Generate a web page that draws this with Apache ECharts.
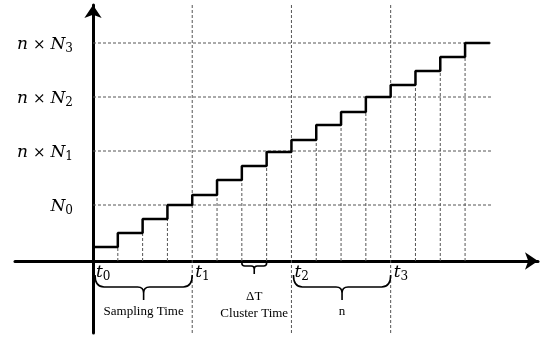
<!DOCTYPE html>
<html><head><meta charset="utf-8">
<script src="https://cdn.jsdelivr.net/npm/echarts@6/dist/echarts.min.js"></script>
<style>html,body{margin:0;padding:0;background:#fff}#c{width:545px;height:338px}</style>
</head><body><div id="c"></div>
<script>
// cumulative count level of each sampling step (arbitrary units)
const stepLevels = [14, 28, 42, 56, 66, 81, 95, 109, 121, 136, 149, 164, 176, 190, 204, 218];
// reference levels and their labels
const gridLevels = [56, 110, 164, 218];
const gridPrefix = ['', 'n', 'n', 'n'];
const gridSubs = ['0', '1', '2', '3'];
// cluster boundaries t0..t3 (in steps)
const tValues = [0, 4, 8, 12];
const tSubs = ['0', '1', '2', '3'];
// braces: [from, to]
const braceSpans = [[0, 4], [6, 7], [8, 12]];
const braceLabels = ['Sampling Time', 'ΔT\nCluster Time', 'n'];

const X_MIN = -3.145, X_MAX = 17.94, Y_MIN = -72, Y_MAX = 256;
const GRID_END = 16.1;
const SERIF = 'Liberation Serif';
const MATH = 'DejaVu Serif';

const stepData = stepLevels.map((v, i) => [i, v]);
stepData.push([stepLevels.length, stepLevels[stepLevels.length - 1]]);

// dashed guide lines: [x0, y0, x1, y1]
const guides = [];
gridLevels.forEach(v => guides.push([0, v, GRID_END, v]));
for (let i = 1; i < stepLevels.length; i++) {
  if (tValues.indexOf(i) >= 0) guides.push([i, Y_MIN, i, Y_MAX]);
  else guides.push([i, 0, i, stepLevels[i - 1]]);
}

const mathRich = {
  i: {fontFamily: MATH, fontStyle: 'italic', fontSize: 17, fill: '#000', lineHeight: 20},
  o: {fontFamily: MATH, fontSize: 15, fill: '#000', lineHeight: 20, padding: [0, 5, 0, 5]},
  s: {fontFamily: MATH, fontSize: 12, fill: '#000', lineHeight: 12, verticalAlign: 'bottom'}
};

const chart = echarts.init(document.getElementById('c'), null, {renderer: 'canvas'});
chart.setOption({
  animation: false,
  backgroundColor: '#fff',
  grid: {left: 15, right: 7, top: 5, bottom: 5, containLabel: false, outerBoundsMode: 'none'},
  xAxis: {
    type: 'value', min: X_MIN, max: X_MAX,
    splitLine: {show: false}, axisTick: {show: false}, axisLabel: {show: false},
    axisLine: {onZero: true, lineStyle: {color: '#000', width: 3}, symbol: ['none', 'arrow'], symbolSize: [13, 13]}
  },
  yAxis: {
    type: 'value', min: Y_MIN, max: Y_MAX,
    splitLine: {show: false}, axisTick: {show: false}, axisLabel: {show: false},
    axisLine: {onZero: true, lineStyle: {color: '#000', width: 3}, symbol: ['none', 'arrow'], symbolSize: [13, 13]}
  },
  series: [
    {
      type: 'custom', z: 1, clip: false, silent: true, data: guides,
      renderItem: (params, api) => {
        const p = api.coord([api.value(0), api.value(1)]);
        const q = api.coord([api.value(2), api.value(3)]);
        return {type: 'line', shape: {x1: p[0], y1: p[1], x2: q[0], y2: q[1]},
          style: {stroke: '#555', lineWidth: 1, lineDash: [3, 2]}};
      }
    },
    {
      type: 'line', data: stepData, step: 'end', z: 3, symbol: 'none', clip: false,
      lineStyle: {color: '#000', width: 2.5}
    },
    {
      type: 'custom', z: 4, clip: false, silent: true, data: gridLevels.map(v => [0, v]),
      renderItem: (params, api) => {
        const p = api.coord([api.value(0), api.value(1)]);
        const k = params.dataIndex;
        return {type: 'text', style: {
          text: (gridPrefix[k] ? '{i|n}{o|×}' : '') + '{i|N}{s|' + gridSubs[k] + '}',
          rich: mathRich, x: p[0] - 20, y: p[1] + 2, align: 'right', verticalAlign: 'middle'
        }};
      }
    },
    {
      type: 'custom', z: 4, clip: false, silent: true, data: tValues.map(v => [v, 0]),
      renderItem: (params, api) => {
        const p = api.coord([api.value(0), api.value(1)]);
        return {type: 'text', style: {
          text: '{i|t}{s|' + tSubs[params.dataIndex] + '}',
          rich: mathRich, x: p[0] + 3, y: p[1] + 2, align: 'left', verticalAlign: 'top'
        }};
      }
    },
    {
      type: 'custom', z: 4, clip: false, silent: true,
      data: braceSpans,
      renderItem: (params, api) => {
        const a = api.coord([api.value(0), 0]);
        const b = api.coord([api.value(1), 0]);
        const y0 = a[1];
        const small = (b[0] - a[0]) < 40;
        const yt = y0 + (small ? 2 : 14), ym = y0 + (small ? 5 : 26), ytip = y0 + (small ? 13 : 39);
        const r = small ? 3 : 9, rs = small ? 3 : 6;
        const x0 = a[0] + (small ? 0 : 2), x1 = b[0], c = (x0 + x1) / 2;
        const d = 'M' + x0 + ' ' + yt + ' Q' + x0 + ' ' + ym + ' ' + (x0 + r) + ' ' + ym +
          ' L' + (c - rs) + ' ' + ym + ' Q' + c + ' ' + ym + ' ' + c + ' ' + (ym + rs) +
          ' L' + c + ' ' + ytip +
          ' M' + c + ' ' + (ym + rs) + ' Q' + c + ' ' + ym + ' ' + (c + rs) + ' ' + ym +
          ' L' + (x1 - r) + ' ' + ym + ' Q' + x1 + ' ' + ym + ' ' + x1 + ' ' + yt;
        return {
          type: 'group',
          children: [
            {type: 'path', shape: {pathData: d}, style: {stroke: '#000', fill: null, lineWidth: 1.6}},
            {type: 'text', style: {
              text: braceLabels[params.dataIndex], x: c, y: ytip + (small ? 14 : 3),
              align: 'center', verticalAlign: 'top', fontFamily: SERIF, fontSize: 13,
              lineHeight: 17, fill: '#000'
            }}
          ]
        };
      }
    }
  ]
});
</script></body></html>
